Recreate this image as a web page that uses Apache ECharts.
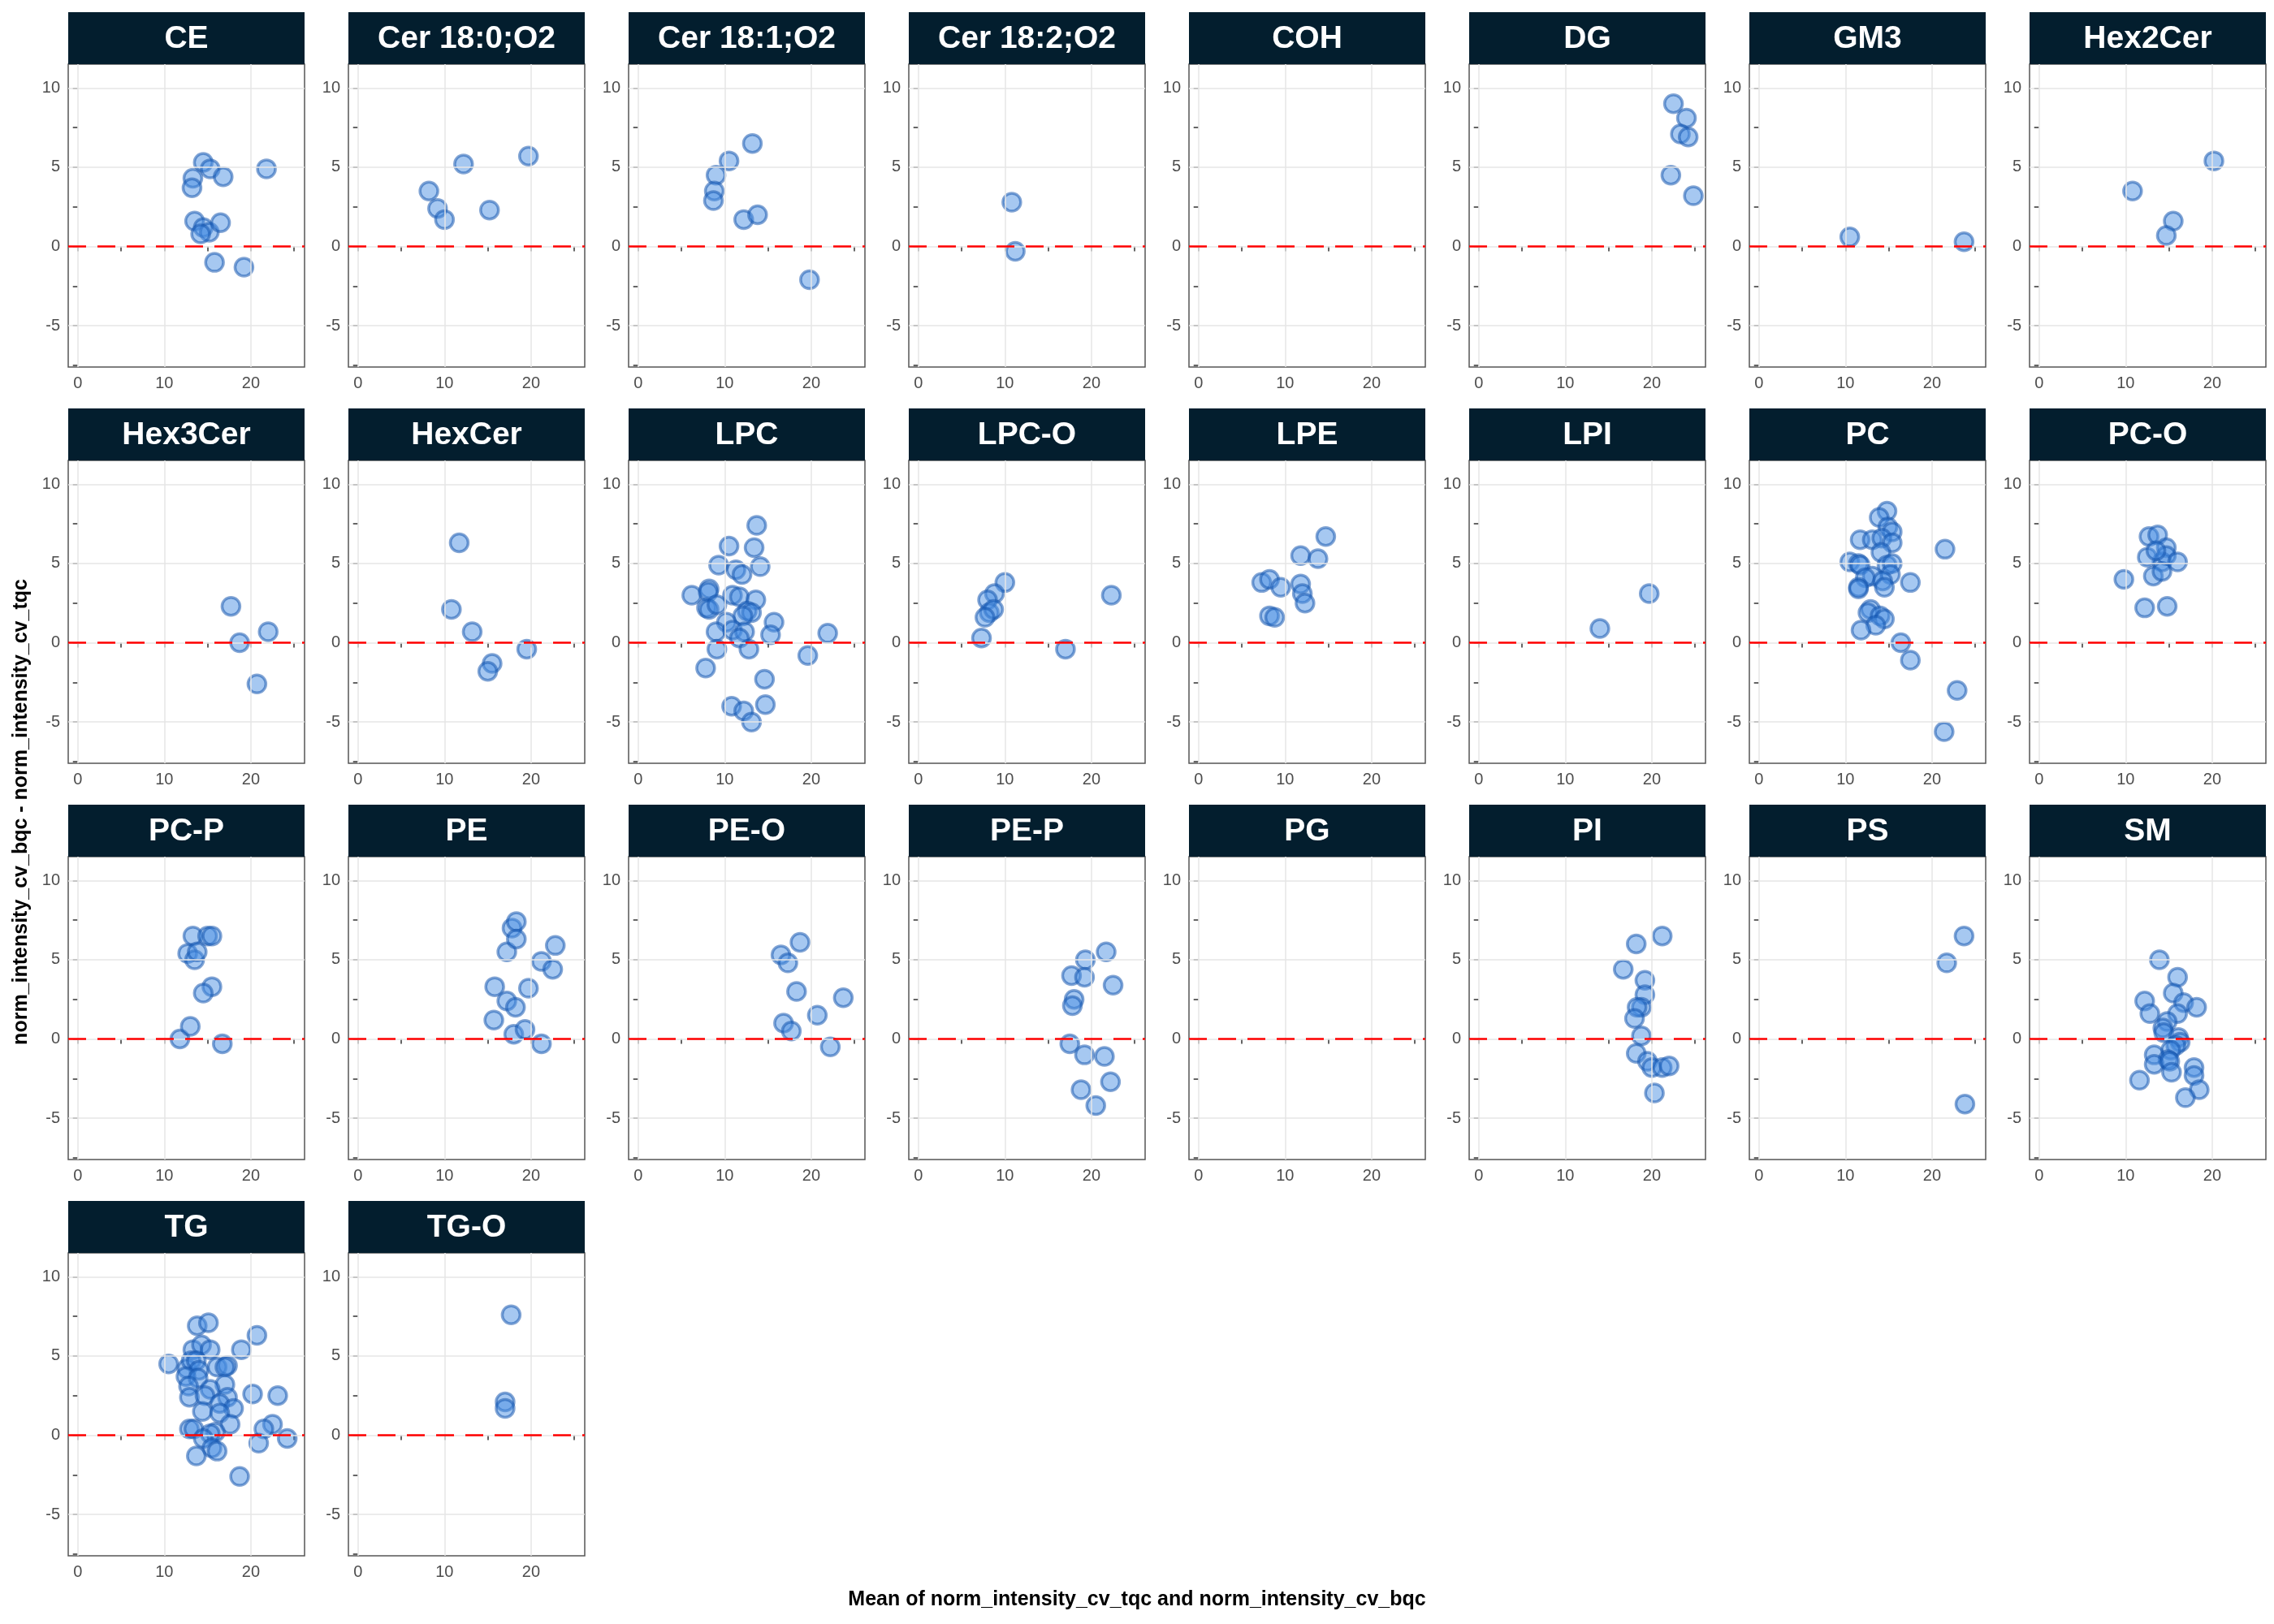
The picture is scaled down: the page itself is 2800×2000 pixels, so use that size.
<!DOCTYPE html>
<html style="height: 100%">
<head>
<meta charset="utf-8">
</head>
<body style="height: 100%; margin: 0; background: #fff">
<div id="container" style="width: 2800px; height: 2000px"></div>
<script type="text/javascript" src="https://cdn.jsdelivr.net/npm/echarts@6/dist/echarts.min.js"></script>
<script type="text/javascript">
// panel names in facet order
var classes = ['CE', 'Cer 18:0;O2', 'Cer 18:1;O2', 'Cer 18:2;O2', 'COH', 'DG', 'GM3', 'Hex2Cer',
  'Hex3Cer', 'HexCer', 'LPC', 'LPC-O', 'LPE', 'LPI', 'PC', 'PC-O',
  'PC-P', 'PE', 'PE-O', 'PE-P', 'PG', 'PI', 'PS', 'SM',
  'TG', 'TG-O'];

// [mean, difference] per lipid
var CE = [[14.5,5.3],[15.3,4.9],[16.8,4.4],[21.8,4.9],[13.3,4.3],[13.2,3.7],[13.5,1.6],[14.5,1.2],[15.2,0.9],[14.2,0.8],[16.5,1.5],[15.8,-1.0],[19.2,-1.3]];
var Cer180 = [[8.2,3.5],[9.2,2.4],[10.0,1.7],[12.2,5.2],[15.2,2.3],[19.7,5.7]];
var Cer181 = [[13.2,6.5],[10.5,5.4],[9.0,4.5],[8.8,3.5],[8.7,2.9],[12.2,1.7],[13.8,2.0],[19.8,-2.1]];
var Cer182 = [[10.8,2.8],[11.2,-0.3]];
var COH = [];
var DG = [[22.5,9.0],[24.0,8.1],[23.3,7.1],[24.2,6.9],[22.2,4.5],[24.8,3.2]];
var GM3 = [[10.5,0.6],[23.7,0.3]];
var Hex2Cer = [[10.8,3.5],[20.2,5.4],[15.5,1.6],[14.7,0.7]];
var Hex3Cer = [[17.7,2.3],[18.7,0.0],[22.0,0.7],[20.7,-2.6]];
var HexCer = [[11.7,6.3],[10.8,2.1],[13.2,0.7],[15.5,-1.3],[15.0,-1.8],[19.5,-0.4]];
var LPC = [[13.7,7.4],[10.5,6.1],[13.4,6.0],[9.3,4.9],[14.1,4.8],[11.3,4.6],[12.0,4.3],[6.2,3.0],[8.2,3.4],[8.1,3.2],
  [7.9,2.2],[8.2,2.1],[9.1,2.4],[10.9,3.0],[11.7,2.9],[13.6,2.7],[12.6,2.0],[13.1,1.9],[12.1,1.7],[15.7,1.3],
  [10.2,1.3],[9.0,0.7],[10.9,0.8],[12.3,0.7],[11.7,0.3],[15.3,0.5],[21.9,0.6],[9.1,-0.4],[12.8,-0.4],[19.6,-0.8],
  [7.8,-1.6],[14.6,-2.3],[10.8,-4.0],[14.7,-3.9],[12.2,-4.3],[13.1,-5.0]];
var LPCO = [[10.0,3.8],[8.8,3.1],[8.0,2.7],[8.2,1.9],[8.7,2.1],[7.7,1.6],[7.3,0.3],[17.0,-0.4],[22.3,3.0]];
var LPE = [[7.3,3.8],[8.2,4.0],[9.5,3.5],[11.8,5.5],[13.8,5.3],[14.7,6.7],[11.8,3.7],[12.0,3.1],[12.3,2.5],[8.2,1.7],[8.8,1.6]];
var LPI = [[14.0,0.9],[19.7,3.1]];
var PC = [[14.8,8.3],[13.9,7.9],[14.9,7.3],[15.4,7.0],[11.7,6.5],[13.1,6.5],[14.2,6.6],[15.4,6.3],[14.1,5.7],[21.5,5.9],
  [10.5,5.1],[11.5,5.0],[11.7,4.9],[14.8,4.9],[15.4,5.0],[15.2,4.3],[13.1,4.2],[12.3,4.1],[14.3,3.9],[11.5,3.5],
  [11.5,3.4],[14.5,3.5],[17.5,3.8],[12.9,2.1],[12.6,1.9],[14.0,1.7],[14.5,1.5],[13.5,1.1],[11.8,0.8],[16.4,0.0],
  [17.5,-1.1],[22.9,-3.0],[21.4,-5.6]];
var PCO = [[9.8,4.0],[12.2,2.2],[12.7,6.7],[13.7,6.8],[14.7,6.0],[14.2,5.1],[14.7,5.5],[12.5,5.4],[13.2,4.2],[14.2,4.5],[16.0,5.1],[14.8,2.3],[13.5,5.8]];
var PCP = [[11.8,0.0],[13.0,0.8],[13.3,6.5],[12.7,5.4],[13.5,5.0],[13.8,5.5],[15.0,6.5],[15.5,6.5],[15.5,3.3],[14.5,2.9],[16.7,-0.3]];
var PE = [[15.8,3.3],[17.2,5.5],[17.8,7.0],[18.3,7.4],[18.3,6.3],[17.2,2.4],[18.2,2.0],[15.7,1.2],[18.0,0.3],[19.3,0.6],
  [19.7,3.2],[21.2,4.9],[22.5,4.4],[22.8,5.9],[21.2,-0.3]];
var PEO = [[16.5,5.3],[17.3,4.8],[18.7,6.1],[18.3,3.0],[16.8,1.0],[17.7,0.5],[20.7,1.5],[22.2,-0.5],[23.7,2.6]];
var PEP = [[17.7,4.0],[18.0,2.5],[17.8,2.1],[19.3,5.0],[19.2,3.9],[21.7,5.5],[22.5,3.4],[17.5,-0.3],[19.2,-1.0],[21.5,-1.1],
  [18.8,-3.2],[22.2,-2.7],[20.5,-4.2]];
var PG = [];
var PI = [[16.7,4.4],[18.2,6.0],[21.2,6.5],[19.2,3.7],[19.2,2.8],[18.8,2.0],[18.3,2.0],[18.0,1.3],[18.8,0.2],[18.2,-0.9],
  [19.5,-1.4],[20.0,-1.8],[21.2,-1.8],[22.0,-1.7],[20.3,-3.4]];
var PS = [[21.7,4.8],[23.7,6.5],[23.8,-4.1]];
var SM = [[13.9,5.0],[16.0,3.9],[15.5,2.9],[12.2,2.4],[16.7,2.3],[18.2,2.0],[12.8,1.6],[16.0,1.6],[14.8,1.1],[14.3,0.7],
  [14.4,0.4],[16.1,0.1],[16.3,-0.2],[15.8,-0.4],[15.2,-0.7],[13.3,-1.0],[14.9,-1.3],[13.3,-1.6],[17.9,-1.8],[17.9,-2.3],
  [15.1,-1.4],[15.3,-2.1],[11.6,-2.6],[18.5,-3.2],[16.9,-3.7]];
var TG = [[13.8,6.9],[15.1,7.1],[20.7,6.3],[18.9,5.4],[13.3,5.4],[14.3,5.7],[15.3,5.4],[10.5,4.5],[12.6,4.2],[13.1,4.7],
  [13.7,4.7],[14.0,4.1],[16.1,4.3],[17.3,4.4],[17.0,4.3],[12.5,3.7],[13.9,3.6],[17.0,3.2],[12.8,3.1],[15.3,2.9],
  [12.9,2.4],[14.7,2.5],[20.2,2.6],[23.1,2.5],[17.3,2.4],[16.4,2.0],[18.0,1.7],[14.4,1.5],[16.4,1.4],[17.6,0.7],
  [22.5,0.7],[21.5,0.4],[12.9,0.4],[13.4,0.4],[15.9,0.2],[15.3,0.1],[14.5,-0.2],[24.2,-0.2],[20.9,-0.5],[15.5,-0.8],
  [16.1,-1.0],[13.7,-1.3],[18.7,-2.6]];
var TGO = [[17.7,7.6],[17.0,2.1],[17.0,1.7]];

var panelData = [CE, Cer180, Cer181, Cer182, COH, DG, GM3, Hex2Cer,
  Hex3Cer, HexCer, LPC, LPCO, LPE, LPI, PC, PCO,
  PCP, PE, PEO, PEP, PG, PI, PS, SM,
  TG, TGO];

var xTicks = [0, 10, 20];
var xMinor = [0, 5, 10, 15, 20, 25];
var yTicks = [-5, 0, 5, 10];
var yMinor = [-7.5, -5, -2.5, 0, 2.5, 5, 7.5, 10];

var dom = document.getElementById('container');
var myChart = echarts.init(dom);
var FONT = 'Liberation Sans';

var grids = [], xAxes = [], yAxes = [], series = [], graphics = [];
var gridColor = '#e6e6e6';

classes.forEach(function (name, i) {
  var col = i % 8, row = Math.floor(i / 8);
  var left = 84 + col * 345, top = 79 + row * 488;
  grids.push({ left: left, top: top, width: 291, height: 373, show: true, borderColor: '#555', borderWidth: 1.5, backgroundColor: '#fff' });
  xAxes.push({
    type: 'value', gridIndex: i, min: -1.1, max: 26.2,
    axisLine: { show: false },
    axisTick: { show: true, customValues: xMinor, length: 6, lineStyle: { color: '#333', width: 1.5 } },
    axisLabel: { customValues: xTicks, color: '#4d4d4d', fontSize: 20, fontFamily: FONT, margin: 10 },
    splitLine: { show: false }
  });
  yAxes.push({
    type: 'value', gridIndex: i, min: -7.6, max: 11.5,
    axisLine: { show: false },
    axisTick: { show: true, customValues: yMinor, length: 6, lineStyle: { color: '#333', width: 1.5 } },
    axisLabel: { customValues: yTicks, color: '#4d4d4d', fontSize: 20, fontFamily: FONT, margin: 10 },
    splitLine: { show: false }
  });
  var lines = [];
  xTicks.forEach(function (v) { lines.push({ xAxis: v, lineStyle: { color: gridColor, width: 1.5, type: 'solid' } }); });
  yTicks.forEach(function (v) { lines.push({ yAxis: v, lineStyle: { color: gridColor, width: 1.5, type: 'solid' } }); });
  series.push({
    type: 'scatter', xAxisIndex: i, yAxisIndex: i, data: [], silent: true,
    markLine: { silent: true, symbol: 'none', label: { show: false }, animation: false, data: lines }, z: 1
  });
  series.push({
    type: 'scatter', xAxisIndex: i, yAxisIndex: i, data: [], silent: true,
    markLine: { silent: true, symbol: 'none', label: { show: false }, animation: false,
      data: [{ yAxis: 0, lineStyle: { color: '#ff0000', width: 2.5, type: [22, 14] } }] }, z: 2
  });
  series.push({
    type: 'scatter', xAxisIndex: i, yAxisIndex: i, data: panelData[i],
    symbolSize: 22, z: 3,
    itemStyle: { color: 'rgba(70,140,225,0.6)', borderColor: 'rgba(18,82,172,0.65)', borderWidth: 3.5 }
  });
  graphics.push({
    type: 'group', left: left, top: top - 64,
    children: [
      { type: 'rect', shape: { x: 0, y: 0, width: 291, height: 64 }, style: { fill: '#031e2e' } },
      { type: 'text', x: 145.5, y: 33, style: { text: name, fill: '#fff', font: 'bold 39px "Liberation Sans"', textAlign: 'center', textVerticalAlign: 'middle' } }
    ]
  });
});

graphics.push({
  type: 'text', left: 14, top: 'middle', rotation: Math.PI / 2,
  style: { text: 'norm_intensity_cv_bqc - norm_intensity_cv_tqc', fill: '#000', font: 'bold 25px "Liberation Sans"' }
});
graphics.push({
  type: 'text', left: 'center', top: 1958,
  style: { text: 'Mean of norm_intensity_cv_tqc and norm_intensity_cv_bqc', fill: '#000', font: 'bold 25px "Liberation Sans"' }
});

var option = {
  backgroundColor: '#fff',
  animation: false,
  grid: grids,
  xAxis: xAxes,
  yAxis: yAxes,
  series: series,
  graphic: graphics
};
myChart.setOption(option);
</script>
</body>
</html>
